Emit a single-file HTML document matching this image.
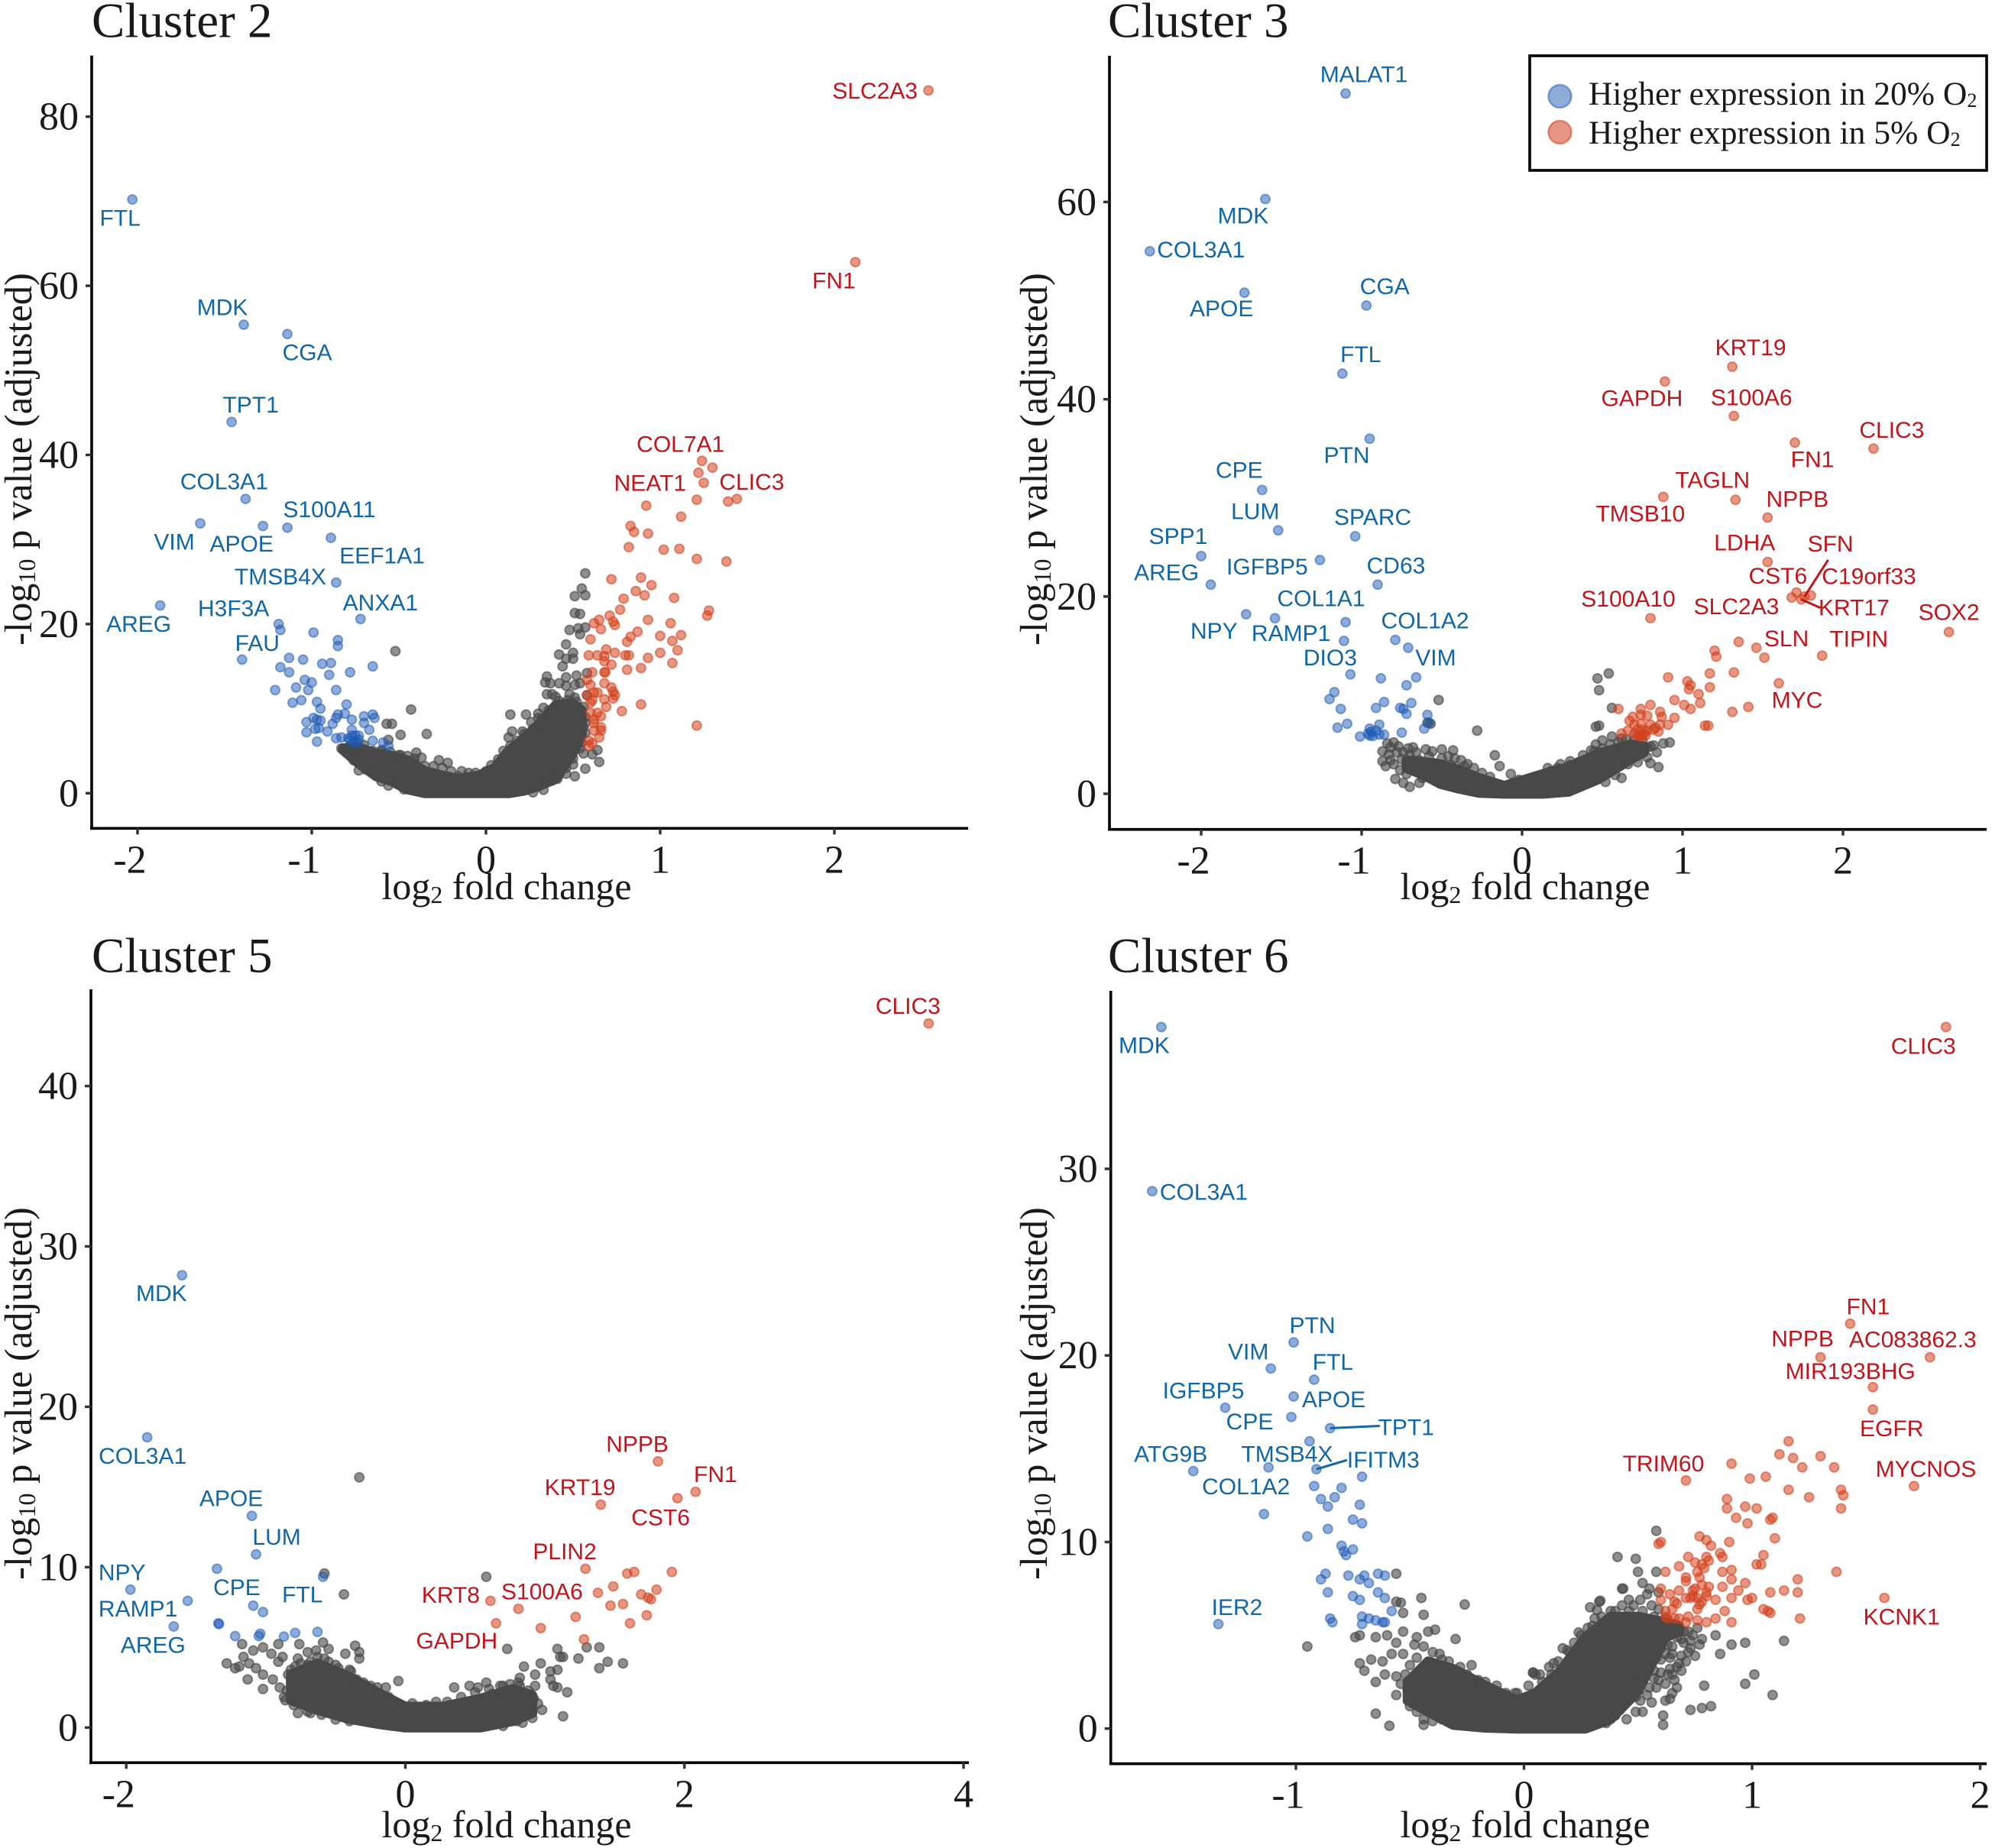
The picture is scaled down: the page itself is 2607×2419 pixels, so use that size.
<!DOCTYPE html>
<html lang="en">
<head>
<meta charset="utf-8">
<title>Volcano plots by cluster</title>
<style>
html,body{margin:0;padding:0;background:#fff}
svg{display:block}
.serif{font-family:"Liberation Serif",serif;fill:#1a1a1a}
.gene{font-family:"Liberation Sans",sans-serif;font-size:30px;text-anchor:middle}
</style>
</head>
<body>
<svg id="fig" xmlns="http://www.w3.org/2000/svg" width="2607" height="2419" viewBox="0 0 2607 2419">
<rect width="2607" height="2419" fill="#fff"/>

<g id="panel-c2"></g>
<g id="panel-c3"></g>
<g id="panel-c5"></g>
<g id="panel-c6"></g>

<text class="serif" x="120" y="48.5" font-size="65">Cluster 2</text>
<text class="serif" x="1450" y="48.5" font-size="65">Cluster 3</text>
<text class="serif" x="120" y="1272.5" font-size="65">Cluster 5</text>
<text class="serif" x="1450" y="1272.5" font-size="65">Cluster 6</text>

<text class="serif" x="663" y="1177" font-size="50" text-anchor="middle">log<tspan font-size="32" dy="5">2</tspan><tspan dy="-5"> fold change</tspan></text>
<text class="serif" x="1996" y="1177" font-size="50" text-anchor="middle">log<tspan font-size="32" dy="5">2</tspan><tspan dy="-5"> fold change</tspan></text>
<text class="serif" x="663" y="2405" font-size="50" text-anchor="middle">log<tspan font-size="32" dy="5">2</tspan><tspan dy="-5"> fold change</tspan></text>
<text class="serif" x="1996" y="2405" font-size="50" text-anchor="middle">log<tspan font-size="32" dy="5">2</tspan><tspan dy="-5"> fold change</tspan></text>

<text class="serif" transform="translate(41,601) rotate(-90)" font-size="50.5" text-anchor="middle">-log<tspan font-size="32" dy="5">10</tspan><tspan dy="-5"> p value (adjusted)</tspan></text>
<text class="serif" transform="translate(1370,601) rotate(-90)" font-size="50.5" text-anchor="middle">-log<tspan font-size="32" dy="5">10</tspan><tspan dy="-5"> p value (adjusted)</tspan></text>
<text class="serif" transform="translate(41,1824) rotate(-90)" font-size="50.5" text-anchor="middle">-log<tspan font-size="32" dy="5">10</tspan><tspan dy="-5"> p value (adjusted)</tspan></text>
<text class="serif" transform="translate(1370,1824) rotate(-90)" font-size="50.5" text-anchor="middle">-log<tspan font-size="32" dy="5">10</tspan><tspan dy="-5"> p value (adjusted)</tspan></text>

<g>
<rect x="2002" y="73" width="598" height="150" fill="#fff" stroke="#000" stroke-width="3.6"/>
<circle cx="2041.5" cy="126" r="15" fill="rgb(30,90,180)" fill-opacity=".5" stroke="rgb(30,90,180)" stroke-opacity=".5" stroke-width="2.5"/>
<circle cx="2041.5" cy="173" r="15" fill="rgb(210,65,30)" fill-opacity=".55" stroke="rgb(210,65,30)" stroke-opacity=".55" stroke-width="2.5"/>
<text class="serif" x="2079" y="137" font-size="43.5">Higher expression in 20% O<tspan font-size="26" dy="3">2</tspan></text>
<text class="serif" x="2079" y="188" font-size="43.5">Higher expression in 5% O<tspan font-size="26" dy="3">2</tspan></text>
</g>
</svg>

<script>
/* ===== Cluster 2 data ===== */
const c2XTicks=[-2,-1,0,1,2];
const c2YTicks=[0,20,40,60,80];
const c2BlueGenes=[["FTL",-2.03,70.2],["MDK",-1.39,55.4],["CGA",-1.14,54.3],["TPT1",-1.46,43.9],["COL3A1",-1.38,34.8],["VIM",-1.64,31.9],["APOE",-1.28,31.6],["S100A11",-1.14,31.4],["EEF1A1",-0.89,30.2],["TMSB4X",-0.86,24.9],["AREG",-1.87,22.2],["ANXA1",-0.72,20.6],["H3F3A",-1.19,20],["FAU",-1.40,15.8]];
const c2RedGenes=[["SLC2A3",2.54,83.1],["FN1",2.12,62.8],["COL7A1",1.24,39.3],["NEAT1",1.21,34.7],["CLIC3",1.39,34.5]];
const c2BlueOther=[[-1.18,19.3],[-0.99,19],[-0.85,18.1],[-0.85,17.4],[-1.13,16],[-1.05,15.8],[-1.18,14.9],[-0.94,15.3],[-0.89,15.4],[-0.65,15],[-0.78,14.3],[-1.13,14.3],[-0.90,14],[-1.04,13.4],[-1,13.1],[-1.09,12.5],[-1.02,12.2],[-1.21,12.2],[-0.86,12.2],[-1.06,11],[-1.11,10.7],[-0.97,10.8],[-0.95,10],[-0.80,10.5],[-0.81,9.4],[-0.85,9.3],[-0.70,9.1],[-0.65,9.3],[-0.64,8.9],[-0.99,8.9],[-1.03,8.4],[-0.97,8.7],[-0.95,8.6],[-0.86,8.9],[-0.88,8.2],[-0.77,8.7],[-0.70,8.3],[-0.67,7.5],[-0.98,7.6],[-1.03,7.2],[-0.96,7.7],[-0.91,7.3],[-0.97,6.1],[-0.77,7.5],[-0.77,6.8],[-0.86,6.5],[-0.83,6.6],[-0.79,6.5],[-0.75,6.8],[-0.73,6.8],[-0.78,6.3],[-0.73,6.3],[-0.65,6.2],[-0.59,6],[-0.56,5.6],[-0.76,6.1],[-0.74,6]];
const c2RedOther=[[1.30,38.5],[1.22,37.9],[1.25,36.7],[1.44,34.8],[0.92,34],[1.12,32.7],[0.83,31.6],[0.85,30.9],[0.93,30.7],[0.82,29.1],[1.02,28.8],[1.11,28.9],[1.21,27.7],[1.38,27.4],[0.72,25.3],[0.89,25.5],[0.95,24.6],[0.86,23.9],[0.91,23.4],[0.79,23],[1.08,23.1],[0.77,21.7],[1.28,21.6],[1.27,21],[0.71,21],[0.73,20.3],[0.74,19.9],[0.65,20.5],[0.62,20.1],[0.66,19.4],[0.93,20.5],[1.06,20.1],[0.60,18.2],[0.87,19.1],[0.83,18.5],[0.81,17.9],[1,18.6],[1.12,18.7],[1.07,18],[0.69,17],[0.74,16.6],[0.59,16.3],[0.64,16.3],[0.68,16.2],[0.80,16.3],[0.82,16.3],[1,16.6],[1.10,16.9],[0.93,16],[0.68,15.6],[0.72,15.2],[1.07,15.4],[0.89,14.8],[0.81,14.6],[1.21,8],[0.61,14.3],[0.58,13.4],[0.68,14.3],[0.685,14.3],[0.68,13],[0.60,12.8],[0.72,12.5],[0.73,12],[0.74,11.6],[0.73,11.2],[0.64,11.9],[0.62,11.9],[0.58,11.6],[0.61,11],[0.60,10.7],[0.68,11.1],[0.69,10.2],[0.78,9.7],[0.89,10.5],[0.60,9.5],[0.64,9.5],[0.66,9.1],[0.62,8.7],[0.62,8.3],[0.66,7.8],[0.62,7.4],[0.66,7.4],[0.65,6.6],[0.59,6.2],[0.61,5.9],[0.59,5.6]];
const c2GrayOther=[[0.57,26],[0.55,24.2],[0.57,23.4],[0.51,23.3],[0.51,21.3],[0.54,21.2],[0.57,19.6],[0.53,19.5],[0.48,19.3],[0.54,18.8],[0.46,17.6],[0.42,16.4],[0.50,16.6],[0.46,15.9],[0.50,15.9],[0.44,15],[0.35,13.8],[0.46,13.7],[0.52,13.9],[0.58,14.2],[0.34,13.1],[0.37,13],[0.42,13],[0.46,12.7],[0.54,13],[0.51,12.8],[0.48,11.7],[0.35,11.7],[0.38,11.7],[0.40,11.4],[0.51,11.3],[0.58,11.6],[0.14,9.3],[0.23,9.3],[0.30,9.4],[0.33,10.1],[0.26,8.4],[0.30,8.9],[0.15,7.3],[0.13,6.6],[0.21,7.3],[-0.43,9.9],[-0.52,16.8],[-0.57,8.2],[-0.54,8.2],[-0.49,6.9],[-0.34,7],[-0.56,6.3],[0.64,5.1],[0.65,3.7],[0.61,4.6],[0.57,2.9],[0.51,2],[0.54,5.3],[0.33,0.4],[0.27,0.1],[0.41,1.7],[0.46,2.3],[0.50,4.1],[0.56,4.7],[0.57,7.1],[0.57,8.3],[-0.83,5.3],[-0.79,5.1],[-0.76,3.9],[-0.73,2.7],[-0.69,2.8],[-0.60,1.4],[-0.56,0.9],[-0.47,0.45],[-0.40,4.8],[-0.37,4.2],[-0.27,3.9],[-0.22,3.6],[-0.25,3],[-0.14,2.6],[-0.10,2.4],[-0.41,4.1],[-0.49,4.5],[-0.53,4.4],[-0.6,5.1],[-0.74,5.6],[-0.66,4.7],[-0.78,5.6],[-0.7,5.7],[-0.65,5],[-0.6,4.9],[-0.55,4.9],[-0.5,4.5],[-0.45,4.4],[-0.42,3.8],[-0.35,3.2],[-0.3,3.2],[-0.2,2.6],[-0.16,2],[-0.06,2.4],[0,2.6],[0.03,3.3],[0.07,4],[0.1,5],[0.14,5.6],[0.18,6.2],[0.22,7],[0.27,7.6],[0.32,8.8],[0.36,9.8],[0.42,10.9],[0.47,11],[0.52,10.8],[0.56,10.2],[0.57,9],[0.56,7.8],[0.55,6],[0.5,3.4],[0.46,3],[0.42,2.2],[0.38,1.5],[0.34,1.2],[0.3,0.8],[0.25,0.6],[0.2,0.3],[-0.65,2.4],[-0.7,3.2],[-0.58,1.8],[-0.5,1.1]];
const c2CoreX=[-0.82,-0.73,-0.63,-0.54,-0.45,-0.35,-0.25,-0.16,-0.04,0.05,0.13,0.22,0.31,0.40,0.49,0.55];
const c2CoreTop=[5.3,5.4,4.7,4.4,3.9,2.6,2.1,1.7,2.1,3,5,6.5,8.3,10.4,10.7,9.8];
const c2CoreBottom=[5.1,3.5,2,1.4,0.45,0,0,0,0,0,0,0.3,0.9,1.7,4.4,6.8];

/* ===== Cluster 3 data ===== */
const c3XTicks=[-2,-1,0,1,2];
const c3YTicks=[0,20,40,60];
const c3BlueGenes=[["MALAT1",-1.10,71],["MDK",-1.60,60.3],["COL3A1",-2.32,55],["APOE",-1.73,50.8],["CGA",-0.97,49.5],["FTL",-1.12,42.6],["PTN",-0.95,36],["CPE",-1.62,30.8],["LUM",-1.52,26.7],["SPARC",-1.04,26.1],["IGFBP5",-1.26,23.7],["SPP1",-2,24.1],["AREG",-1.94,21.2],["CD63",-0.90,21.2],["NPY",-1.72,18.2],["RAMP1",-1.54,17.8],["COL1A1",-1.10,17.4],["DIO3",-1.11,15.5],["COL1A2",-0.79,15.6],["VIM",-0.71,14.8]];
const c3RedGenes=[["KRT19",1.31,43.3],["GAPDH",0.89,41.8],["S100A6",1.32,38.3],["FN1",1.70,35.6],["CLIC3",2.19,35],["TMSB10",0.88,30.1],["TAGLN",1.33,29.8],["NPPB",1.53,28],["LDHA",1.53,23.5],["CST6",1.68,19.9],["SFN",1.76,20],["C19orf33",1.80,20.1],["KRT17",1.74,19.7],["S100A10",0.80,17.8],["SLC2A3",1.35,15.4],["SLN",1.51,13.8],["TIPIN",1.87,14],["SOX2",2.66,16.4],["MYC",1.60,11.2]];
const c3BlueOther=[[-1.07,12.1],[-0.88,11.7],[-0.66,11.8],[-0.72,11],[-1.17,10.3],[-1.20,9.6],[-0.86,9.3],[-0.69,9.2],[-0.91,8.7],[-1.13,8.6],[-0.76,8.7],[-0.74,8.6],[-0.72,8.1],[-0.59,8],[-1.09,7.1],[-1.15,6.7],[-0.89,7],[-0.58,7.2],[-0.61,6.6],[-0.75,6.2],[-0.95,6.6],[-0.94,6.3],[-0.96,6.1],[-1.01,5.8],[-0.91,6.4],[-0.89,6],[-0.86,6],[-0.95,5.9],[-0.93,5.85]];
const c3RedOther=[[1.71,20.4],[1.46,14.8],[1.20,14.5],[1.21,13.9],[1.32,12.3],[1.17,12.2],[0.91,11.8],[1.03,11.4],[1.05,11],[1.04,10.6],[1.17,10.8],[1.10,10.1],[0.95,9.5],[1.01,9],[1.11,9.2],[1.05,8.6],[1.31,8.3],[1.41,8.8],[0.95,7.7],[1.14,6.9],[1.16,6.9],[0.80,9],[0.91,7],[0.86,8.3],[0.87,7.8],[0.74,8.6],[0.69,7.8],[0.74,8],[0.78,7.9],[0.60,8.6],[0.67,7.4],[0.70,7],[0.74,7.1],[0.80,7],[0.83,6.7],[0.86,7],[0.72,6],[0.62,6.1],[0.66,6.4],[0.70,6.1],[0.73,5.9],[0.76,6.1],[0.78,6.4],[0.75,6.5],[0.72,6.5],[0.82,6.5],[0.85,6.3],[0.74,5.8],[0.75,6],[0.77,5.9]];
const c3GrayOther=[[0.47,11.7],[0.54,12.2],[0.48,10.5],[0.56,8.7],[0.46,6.8],[0.48,6.9],[-0.28,6.4],[-0.52,9.5],[-0.17,3.9],[-0.59,7.2],[-0.57,7.1],[-0.87,4.3],[-0.84,5.1],[-0.82,4.7],[-0.80,5.2],[-0.77,4.8],[-0.74,4.2],[-0.71,4.6],[-0.66,4.2],[-0.6,4.5],[-0.56,4.3],[-0.5,4.5],[-0.46,3.8],[-0.43,4.4],[-0.38,3.4],[-0.34,3],[-0.3,2.6],[-0.14,2.8],[-0.07,2],[-0.85,2.8],[-0.79,1.5],[-0.74,1.1],[-0.7,0.7],[-0.64,1.1],[-0.87,3.3],[0.3,3.3],[0.38,3.9],[0.43,4.4],[0.46,5],[0.5,5.4],[0.56,5.8],[0.62,5.6],[0.78,4.7],[0.82,4.9],[0.88,5.1],[0.92,5.2],[0.8,3.1],[0.85,2.7],[0.58,1.9],[0.62,1.6],[0.52,1.2],[0.22,2.6],[0.18,2.3],[-0.83,4],[-0.82,3.4],[-0.8,3],[-0.78,4.2],[-0.76,2.4],[-0.75,3.5],[-0.72,2],[-0.7,3.9],[-0.68,4.7],[-0.66,2.4],[-0.64,3.4],[-0.62,1.6],[-0.6,2.6],[-0.58,3.8],[-0.55,3.1],[-0.53,1.5],[-0.5,3.6],[-0.48,2.4],[-0.46,1.2],[-0.44,2.9],[-0.42,3.6],[-0.36,2.8],[-0.25,2.1],[-0.2,1.7],[-0.02,1.4],[0.06,1.6],[0.16,2.6],[0.24,3],[0.3,2.9],[0.35,3.2],[0.4,3.4],[0.45,4.3],[0.5,4.6],[0.55,5],[0.6,5.2],[0.65,5.5],[0.7,5.5],[0.75,5.4],[0.8,4.8],[0.84,4.2],[0.6,2.9],[0.66,3],[0.72,3.2],[0.78,3.7]];
const c3CoreX=[-0.72,-0.6,-0.51,-0.39,-0.27,-0.11,0.13,0.29,0.48,0.68,0.76];
const c3CoreTop=[3.4,3.2,3,2.4,1.6,0.8,2,2.7,4.1,5,4.8];
const c3CoreBottom=[2.6,1.8,1,0.5,0.1,0,0,0.2,1.5,3.5,4.2];

/* ===== Cluster 5 data ===== */
const c5XTicks=[-2,0,2,4];
const c5YTicks=[0,10,20,30,40];
const c5BlueGenes=[["MDK",-1.60,28.2],["COL3A1",-1.85,18.1],["APOE",-1.10,13.2],["LUM",-1.07,10.8],["CPE",-1.35,9.9],["NPY",-1.97,8.6],["RAMP1",-1.56,7.9],["AREG",-1.66,6.3],["FTL",-0.59,9.4]];
const c5RedGenes=[["CLIC3",3.75,43.9],["NPPB",1.81,16.6],["FN1",2.08,14.7],["CST6",1.95,14.3],["KRT19",1.40,13.9],["PLIN2",1.29,9.9],["KRT8",0.61,7.9],["S100A6",0.81,7.4]];
const c5BlueOther=[[-1.09,7.6],[-1.02,7.2],[-1.34,6.5],[-1.335,6.45],[-1.22,5.7],[-1.04,5.85],[-1.05,5.7],[-0.87,5.67],[-0.79,5.9],[-0.63,5.96]];
const c5RedOther=[[1.59,9.6],[1.64,9.7],[1.91,9.7],[1.49,8.8],[1.38,8.4],[1.80,8.6],[1.69,8.3],[1.74,8.1],[1.76,8],[1.56,7.7],[1.47,7.6],[1.22,6.9],[1.73,7],[1.61,6.5],[0.65,6.5],[0.97,6.2],[1.28,5.5]];
const c5GrayGenes=[["GAPDH",0.73,4.9]];
const c5GrayOther=[[-0.33,15.6],[-0.58,9.6],[-0.44,8.3],[0.58,9.4],[1.09,4.9],[1.30,5],[1.39,5],[1.45,4.1],[1.56,4],[1.39,3.7],[1.24,4.3],[1.11,4.4],[1.13,4.4],[0.97,4],[0.85,3.8],[1.09,3.6],[1.16,2.2],[1.13,0.7],[1.09,2.5],[1.04,3],[0.93,3.3],[0.82,3.1],[0.35,2.5],[-0.05,2.9],[-0.14,2.5],[0.98,1.1],[0.84,0.3],[0.91,0.6],[0.95,1.5],[1.06,2.6],[0.93,2.6],[1.04,3.5],[0.81,2.8],[0.58,2.8],[0.52,2.5],[0.46,2.6],[0.70,2.6],[-0.36,5.1],[-0.33,4.7],[-0.33,4.3],[-0.43,4.6],[-0.59,5.3],[-0.55,4.9],[-0.64,4.8],[-0.58,4.3],[-0.7,4.7],[-1.28,4],[-1.17,5.2],[-1.16,4.4],[-1.09,4.8],[-1.12,4],[-1.22,3.7],[-1.19,3.8],[-1.07,3.7],[-1.02,5],[-0.91,5.2],[-0.96,4.6],[-0.88,4.4],[-0.91,4.1],[-1.02,3.3],[-1.13,3],[-1.02,2.4],[-0.95,3],[-0.90,2.5],[-0.86,1.7],[-0.84,3.3],[-0.79,3.8],[-0.76,5.2],[-0.77,4.3],[-0.68,4.1],[-0.59,3.7],[-0.5,3.9],[-0.45,3.3],[-0.39,3.5],[-0.77,0.9],[-0.68,0.9],[-0.36,2.6],[-0.25,2.6],[-0.85,2.3],[-0.8,2.9],[-0.72,3.5],[0.66,1.9],[0.72,1.5],[0.78,1.2],[0.62,2.1],[-0.82,3.6],[-0.75,4],[-0.7,3.9],[-0.63,4.4],[-0.55,4.1],[-0.48,3.7],[-0.4,3.6],[-0.35,3],[-0.3,2.8],[-0.2,2.5],[-0.12,1.9],[0.05,1.5],[0.15,1.4],[0.22,1.6],[0.3,1.6],[0.4,1.9],[0.5,2.2],[0.6,2.4],[0.68,2.6],[0.75,2.7],[0.82,2.6],[0.88,2.3],[0.92,1.8],[-0.87,1.9],[-0.8,1.4],[-0.7,1],[-0.6,0.8],[-0.5,0.5],[-0.4,0.4],[0.8,0.4],[0.88,1],[0.7,0.1]];
const c5CoreX=[-0.82,-0.63,-0.41,-0.18,0,0.27,0.54,0.77,0.91];
const c5CoreTop=[3.3,4,3.2,2.1,1.3,1.3,1.8,2.4,2];
const c5CoreBottom=[1.7,1.1,0.55,0.2,0,0,0,0.4,0.9];

/* ===== Cluster 6 data ===== */
const c6XTicks=[-1,0,1,2];
const c6YTicks=[0,10,20,30];
const c6BlueGenes=[["MDK",-1.59,37.6],["COL3A1",-1.63,28.8],["PTN",-1.01,20.7],["VIM",-1.11,19.3],["FTL",-0.92,18.7],["APOE",-1.01,17.8],["IGFBP5",-1.31,17.2],["CPE",-1.02,16.7],["TPT1",-0.85,16.1],["TMSB4X",-0.94,15.4],["ATG9B",-1.45,13.8],["COL1A2",-1.12,14],["IFITM3",-0.91,13.9],["IER2",-1.34,5.6]];
const c6RedGenes=[["CLIC3",1.85,37.6],["FN1",1.43,21.7],["NPPB",1.30,19.9],["AC083862.3",1.78,19.9],["MIR193BHG",1.53,18.3],["EGFR",1.53,17.1],["TRIM60",0.71,13.3],["MYCNOS",1.71,13],["KCNK1",1.58,7]];
const c6BlueOther=[[-0.71,13.5],[-0.80,12.9],[-0.92,13],[-0.83,12.4],[-0.89,12.3],[-0.86,11.9],[-0.72,12],[-1.14,11.5],[-0.75,11.2],[-0.71,11],[-0.86,10.7],[-0.95,10.3],[-0.80,9.8],[-0.75,9.6],[-0.79,9.5],[-0.78,9.3],[-0.87,8.3],[-0.89,8],[-0.77,8.2],[-0.7,8.2],[-0.72,8],[-0.68,7.8],[-0.64,8.3],[-0.61,8.2],[-0.86,7.3],[-0.75,7.1],[-0.72,6.9],[-0.64,7.3],[-0.61,7],[-0.58,6.3],[-0.71,6],[-0.68,5.9],[-0.65,5.8],[-0.62,5.7],[-0.61,5.7],[-0.71,5.6],[-0.85,5.9],[-0.84,5.7]];
const c6RedOther=[[1.16,15.4],[1.12,14.7],[1.18,14.5],[1.30,14.6],[1.22,14],[1.36,14],[0.91,14.2],[0.99,13.4],[1.06,13.5],[1.16,12.8],[1.39,12.8],[1.40,12.5],[1.25,12.4],[0.89,12.3],[0.89,11.8],[0.97,11.9],[1.02,11.8],[1.39,11.8],[0.93,11.3],[0.98,11],[1.08,11.2],[1.09,11.3],[0.77,10.3],[0.90,10],[1.10,10.2],[0.80,10.1],[0.82,9.8],[0.59,9.9],[0.60,10],[0.86,9.4],[0.87,9.2],[1.05,9.3],[0.72,9.2],[0.75,8.9],[0.80,9.2],[0.81,9],[1.02,8.8],[1.04,8.8],[0.68,8.7],[0.78,8.8],[0.79,8.6],[0.62,8.4],[0.76,8.4],[0.87,8.4],[0.91,8.5],[0.71,8.1],[0.71,7.9],[0.77,8.1],[0.91,8],[0.97,7.8],[1.20,8],[1.37,8.4],[0.60,7.5],[0.78,7.7],[0.81,7.6],[0.75,7.5],[0.87,7.6],[0.68,7.4],[0.64,7.2],[0.74,7.4],[0.80,7.3],[0.94,7.4],[1.08,7.3],[1.14,7.4],[1.20,7.3],[0.80,7.1],[0.71,7],[0.73,7],[0.74,7.1],[0.76,7],[0.78,6.8],[0.91,7],[0.98,6.9],[1,7],[0.60,6.9],[0.66,6.8],[0.67,6.7],[0.84,6.9],[0.77,6.65],[0.76,6.4],[0.88,6.3],[0.65,6.4],[0.62,6.3],[0.62,6],[1.05,6.4],[1.07,6.3],[1.08,6.2],[0.72,6],[0.84,5.9],[0.66,5.9],[0.68,5.9],[0.71,5.7],[0.76,5.8],[0.80,5.7],[0.91,5.7],[1.21,5.9],[0.63,5.9]];
const c6GrayOther=[[0.58,10.6],[0.41,9.2],[0.49,9.1],[0.50,8.4],[0.58,8.4],[0.43,7.5],[0.435,7.5],[0.52,7.8],[0.55,7.5],[0.54,7.2],[0.59,7.3],[0.56,6.6],[0.59,6.4],[0.33,6.8],[0.335,6.85],[0.29,6.5],[0.32,6.35],[0.31,5.9],[0.46,6.9],[0.43,6.6],[0.51,6.9],[0.48,6.6],[0.38,6.3],[0.24,5.15],[0.28,5.4],[0.22,4.6],[0.17,4.3],[0.19,4.2],[0.13,3.5],[0.04,3],[0.05,2.9],[-0.12,2.3],[-0.04,1.9],[0.12,2.9],[0.76,5.4],[0.72,5.2],[0.84,5],[0.78,4.8],[0.69,4.8],[0.73,4.7],[0.77,4.5],[0.91,4.5],[0.97,4.6],[1.14,4.7],[0.86,4],[0.73,4.3],[0.72,4.1],[0.69,3.9],[0.65,4.4],[0.65,4],[0.62,4],[0.60,3.7],[0.67,3.3],[0.64,3.2],[0.57,3.1],[0.65,2.9],[0.63,2.9],[0.59,2.6],[1.01,2.9],[0.97,2.4],[0.79,2.3],[0.67,2.2],[0.65,1.9],[1.09,1.8],[0.64,1.6],[0.62,1.5],[0.56,1.4],[0.82,1.2],[0.78,1.1],[0.73,1],[0.61,0.7],[0.61,0.2],[0.52,0.9],[0.49,0.9],[0.45,0.5],[0.49,1.7],[0.55,2.2],[0.53,3.1],[-0.54,6.75],[-0.56,6.8],[-0.45,7],[-0.26,6.65],[-0.56,8.3],[-0.53,6.2],[-0.44,6.1],[-0.95,4.4],[-0.74,4.9],[-0.72,5],[-0.65,4.9],[-0.60,5],[-0.53,5.2],[-0.56,4.6],[-0.42,5.2],[-0.39,5.3],[-0.30,4.8],[-0.72,3.5],[-0.67,3.7],[-0.62,3.6],[-0.70,3.1],[-0.65,2.5],[-0.61,2.9],[-0.56,2.8],[-0.56,1.8],[-0.51,2.1],[-0.49,1.5],[-0.44,0.5],[-0.44,0.2],[-0.65,0.8],[-0.59,0.15],[-0.53,4],[-0.58,4],[-0.48,4.5],[-0.37,4],[-0.23,3.4],[-0.17,2.5],[-0.09,1.8],[0.04,3],[0.08,2.5],[-0.47,4.9],[-0.5,3.4],[-0.52,2.9],[0.22,3.9],[0.26,4.6],[0.35,5.5],[-0.47,3.8],[-0.44,4.4],[-0.4,4.1],[-0.36,3.7],[-0.33,3.6],[-0.28,3.3],[-0.25,2.9],[-0.2,2.6],[-0.14,2.1],[-0.08,1.9],[-0.03,1.9],[0.02,2.3],[0.07,2.9],[0.11,3.3],[0.15,3.6],[0.2,4.1],[0.25,5],[0.3,5.5],[0.34,6],[0.4,6.3],[0.46,6.3],[0.52,6.3],[0.57,6],[0.62,5.9],[0.66,5.6],[0.7,5.2],[0.74,5],[0.7,4.6],[0.67,4.9],[0.63,4.5],[0.6,4.3],[0.58,3.8],[0.55,3.5],[0.52,3],[0.5,2.6],[0.47,2.4],[0.45,1.5],[0.42,1],[0.4,0.7],[0.36,0.3],[0.57,2.7],[0.6,3],[0.62,2.4],[0.66,2.6],[0.69,3.1],[0.71,3.6],[0.75,3.9],[0.68,3.5],[0.64,3.8],[0.58,2.2],[0.54,1.8],[0.51,1.5],[-0.54,2.4],[-0.5,1.2],[-0.47,0.9],[-0.4,0.4],[-0.36,0.5]];
const c6CoreX=[-0.51,-0.42,-0.31,-0.17,-0.03,0.05,0.16,0.27,0.38,0.50,0.62,0.68];
const c6CoreTop=[2.5,3.6,3.2,2.3,1.5,1.9,3.1,4.9,6,6,5.7,5.5];
const c6CoreBottom=[1.5,0.9,0.2,0.05,0,0,0,0,0.5,2,4.9,5.2];

/* ===== Label layout (pixel offsets from each point, not data) ===== */
const c2LabelOffsets={FTL:[-15,24],MDK:[-27,-23],CGA:[27,24],TPT1:[26,-23],COL3A1:[-27,-23],VIM:[-33,24],APOE:[-27,23],S100A11:[56,-24],EEF1A1:[68,23],TMSB4X:[-72,-8],AREG:[-27,24],ANXA1:[27,-22],H3F3A:[-58,-21],FAU:[21,-22],SLC2A3:[-69,0],FN1:[-27,24],COL7A1:[-27,-22],NEAT1:[-60,-22],CLIC3:[32,-26]};
const c3LabelOffsets={MALAT1:[27,-23],MDK:[-26,24],COL3A1:[70,0],APOE:[-27,23],CGA:[27,-23],FTL:[27,-23],PTN:[-27,24],CPE:[-27,-24],LUM:[-27,-23],SPARC:[26,-23],IGFBP5:[-66,11],SPP1:[-27,-24],AREG:[-55,-14],CD63:[27,-23],NPY:[-39,24],RAMP1:[24,22],COL1A1:[-29,-29],DIO3:[-15,24],COL1A2:[42,-23],VIM:[39,15],KRT19:[27,-23],GAPDH:[-27,24],S100A6:[26,-22],FN1:[26,24],CLIC3:[27,-22],TMSB10:[-27,24],TAGLN:[-27,-24],NPPB:[42,-22],LDHA:[-27,-23],SFN:[37,-67,31,-48],CST6:[-15,-26],C19orf33:[79,-23],KRT17:[72,13,25,11],SLC2A3:[0,-44],S100A10:[-26,-23],SLN:[32,-23],TIPIN:[51,-20],SOX2:[3,-24],MYC:[27,24]};
const c5LabelOffsets={MDK:[-27,23],COL3A1:[-6,24],APOE:[-27,-23],LUM:[27,-23],CPE:[26,24],NPY:[-11,-23],RAMP1:[-65,10],AREG:[-27,24],FTL:[-27,23],CLIC3:[-27,-23],NPPB:[-27,-23],FN1:[26,-23],CST6:[-22,25],KRT19:[-27,-23],PLIN2:[-27,-23],KRT8:[-52,-8],S100A6:[31,-23],GAPDH:[-66,-11]};
const c6LabelOffsets={MDK:[-20,23],COL3A1:[70,0],PTN:[27,-23],VIM:[-27,-23],FTL:[27,-24],APOE:[55,3],IGFBP5:[-26,-23],CPE:[-52,5],TPT1:[102,-2,65,-3],TMSB4X:[-27,16],ATG9B:[-27,-23],COL1A2:[-27,24],IFITM3:[90,-13,40,-12],IER2:[27,-23],CLIC3:[-27,24],FN1:[26,-23],NPPB:[-21,-25],"AC083862.3":[-20,-24],MIR193BHG:[-27,-22],EGFR:[27,24],TRIM60:[-27,-23],MYCNOS:[18,-23],KCNK1:[25,24]};

/* ===== Axis functions ===== */
function linear(d0,d1,r0,r1){return function(v){return r0+(v-d0)*(r1-r0)/(d1-d0);};}
const NS='http://www.w3.org/2000/svg';
const BLUE='rgb(30,90,180)',RED='rgb(210,65,30)',GRAY='rgb(72,72,72)';
const BLUE_TEXT='#0f66a8',RED_TEXT='#c2151b';

function make(parent,tag,attrs){
  const el=document.createElementNS(NS,tag);
  for(const k in attrs){el.setAttribute(k,attrs[k]);}
  parent.appendChild(el);
  return el;
}
function dot(g,sx,sy,x,y,color,op,name){
  const c=make(g,'circle',{cx:sx(x),cy:sy(y),r:6,fill:color,'fill-opacity':op,stroke:color,'stroke-opacity':op,'stroke-width':2});
  
  
}
function drawPanel(id,cfg){
  const g=document.getElementById(id);
  const sx=cfg.sx,sy=cfg.sy;

  /* dense overlapping points rendered as a filled mass */
  const pts=[];
  cfg.coreX.forEach(function(x,i){pts.push(sx(x)+','+sy(cfg.coreTop[i]));});
  for(let i=cfg.coreX.length-1;i>=0;i--){pts.push(sx(cfg.coreX[i])+','+sy(cfg.coreBottom[i]));}
  const core=make(g,'polygon',{points:pts.join(' '),fill:GRAY,stroke:GRAY,'stroke-width':13,'stroke-linejoin':'round'});
  
  

  cfg.gray.forEach(function(p){dot(g,sx,sy,p[0],p[1],GRAY,.62,'gray-point');});
  (cfg.grayGenes||[]).forEach(function(p){dot(g,sx,sy,p[1],p[2],GRAY,.62,'gray-point');});
  cfg.blue.forEach(function(p){dot(g,sx,sy,p[0],p[1],BLUE,.5,'blue-point');});
  cfg.blueGenes.forEach(function(p){dot(g,sx,sy,p[1],p[2],BLUE,.5,'blue-point');});
  cfg.red.forEach(function(p){dot(g,sx,sy,p[0],p[1],RED,.55,'red-point');});
  cfg.redGenes.forEach(function(p){dot(g,sx,sy,p[1],p[2],RED,.55,'red-point');});

  function labels(list,color){
    list.forEach(function(p){
      const off=cfg.offsets[p[0]]||[0,-24];
      const px=sx(p[1]),py=sy(p[2]);
      if(off.length>2){
        const ln=make(g,'line',{x1:px,y1:py,x2:px+off[2],y2:py+off[3],stroke:color,'stroke-width':3});
        
        
      }
      const t=make(g,'text',{x:px+off[0]+cfg.labelShift[0],y:py+off[1]+10.5+cfg.labelShift[1],fill:color,'class':'gene'});
      
      
      t.textContent=p[0];
    });
  }
  labels(cfg.blueGenes,BLUE_TEXT);
  labels(cfg.redGenes,RED_TEXT);
  labels(cfg.grayGenes||[],RED_TEXT);

  /* axes */
  const yAxis=make(g,'line',{x1:cfg.left,y1:cfg.top,x2:cfg.left,y2:cfg.bottom+1.8,stroke:'#000','stroke-width':3.6});
  
  
  const xAxis=make(g,'line',{x1:cfg.left-1.8,y1:cfg.bottom,x2:cfg.right,y2:cfg.bottom,stroke:'#000','stroke-width':3.6});
  
  

  cfg.xTicks.forEach(function(v){
    const tk=make(g,'line',{x1:sx(v),y1:cfg.bottom,x2:sx(v),y2:cfg.bottom+8,stroke:'#333','stroke-width':3.4});
    
    
    const t=make(g,'text',{x:sx(v)-(v<0?10:0),y:cfg.bottom+58,'text-anchor':'middle','font-size':52,'class':'serif'});
    
    
    t.textContent=String(v);
  });
  cfg.yTicks.forEach(function(v){
    const tk=make(g,'line',{x1:cfg.left-8,y1:sy(v),x2:cfg.left,y2:sy(v),stroke:'#333','stroke-width':3.4});
    
    
    const t=make(g,'text',{x:cfg.left-17,y:sy(v)+17,'text-anchor':'end','font-size':52,'class':'serif'});
    
    
    t.textContent=String(v);
  });
}

drawPanel('panel-c2',{sx:linear(0,1,636,864),sy:linear(0,80,1038.3,152.7),left:120,right:1267,top:72.7,bottom:1084.3,labelShift:[-1,0],xTicks:c2XTicks,yTicks:c2YTicks,coreX:c2CoreX,coreTop:c2CoreTop,coreBottom:c2CoreBottom,gray:c2GrayOther,blue:c2BlueOther,red:c2RedOther,blueGenes:c2BlueGenes,redGenes:c2RedGenes,offsets:c2LabelOffsets});
drawPanel('panel-c3',{sx:linear(0,2,1992,2412),sy:linear(0,60,1039,264.4),left:1452,right:2600,top:73,bottom:1085.7,labelShift:[-3,-2.5],xTicks:c3XTicks,yTicks:c3YTicks,coreX:c3CoreX,coreTop:c3CoreTop,coreBottom:c3CoreBottom,gray:c3GrayOther,blue:c3BlueOther,red:c3RedOther,blueGenes:c3BlueGenes,redGenes:c3RedGenes,offsets:c3LabelOffsets});
drawPanel('panel-c5',{sx:linear(0,4,530.5,1261),sy:linear(0,40,2261.3,1421.6),left:119,right:1268,top:1295,bottom:2307.3,labelShift:[0,0],xTicks:c5XTicks,yTicks:c5YTicks,coreX:c5CoreX,coreTop:c5CoreTop,coreBottom:c5CoreBottom,gray:c5GrayOther,grayGenes:c5GrayGenes,blue:c5BlueOther,red:c5RedOther,blueGenes:c5BlueGenes,redGenes:c5RedGenes,offsets:c5LabelOffsets});
drawPanel('panel-c6',{sx:linear(0,2,1994.5,2591.5),sy:linear(0,30,2262.7,1530),left:1453.7,right:2600,top:1297,bottom:2308.7,labelShift:[-2.5,0.5],xTicks:c6XTicks,yTicks:c6YTicks,coreX:c6CoreX,coreTop:c6CoreTop,coreBottom:c6CoreBottom,gray:c6GrayOther,blue:c6BlueOther,red:c6RedOther,blueGenes:c6BlueGenes,redGenes:c6RedGenes,offsets:c6LabelOffsets});
</script>
</body>
</html>
